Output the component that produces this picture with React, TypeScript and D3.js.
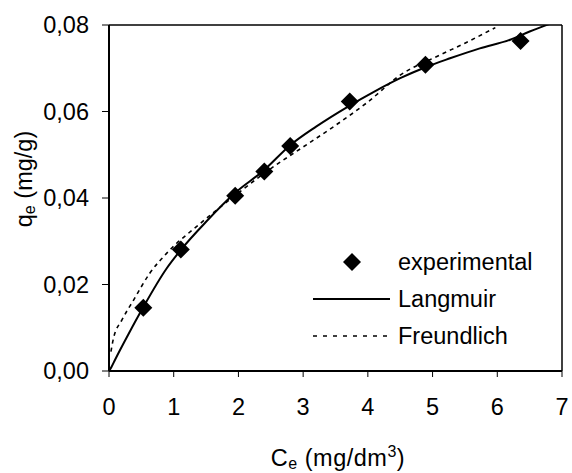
import React from "react";
import * as d3 from "d3";

const expC = [0.53, 1.11, 1.95, 2.4, 2.8, 3.72, 4.89, 6.36];
const expQ = [0.0146, 0.0281, 0.0405, 0.0461, 0.052, 0.0623, 0.0708, 0.0763];

const langC = [0, 0.04, 0.09, 0.3, 0.52, 0.89, 1.11, 1.5, 1.95, 2.4, 2.8, 3.2, 3.7, 4.1, 4.5, 4.9, 5.27, 5.73, 6.2, 6.5, 6.8];
const langQ = [0, 0.001, 0.0025, 0.0085, 0.0145, 0.0237, 0.028, 0.0345, 0.0412, 0.0465, 0.0522, 0.0565, 0.0612, 0.0646, 0.0677, 0.0703, 0.0723, 0.0746, 0.0766, 0.0785, 0.0802];

const freC = [0.03, 0.07, 0.2, 0.38, 0.63, 0.89, 1.41, 2.0, 2.5, 3.0, 3.5, 4.0, 4.5, 5.12, 5.5, 5.97];
const freQ = [0.0045, 0.0076, 0.0118, 0.0164, 0.0226, 0.0272, 0.0341, 0.0412, 0.0468, 0.0518, 0.0568, 0.0622, 0.0684, 0.0731, 0.0758, 0.0794];

const xTicks = [0, 1, 2, 3, 4, 5, 6, 7];
const yTicks = [0, 0.02, 0.04, 0.06, 0.08];

const legendLabels = ["experimental", "Langmuir", "Freundlich"];

const W = 572;
const H = 473;
const FONT = "'Liberation Sans', Arial, sans-serif";
const FS = 23.5;

export default function App() {
  const x = d3.scaleLinear().domain([0, 7]).range([109, 562]);
  const y = d3.scaleLinear().domain([0, 0.08]).range([371, 25]);
  const fmt = (v: number) => d3.format(".2f")(v).replace(".", ",");

  const line = d3
    .line<[number, number]>()
    .x((d) => x(d[0]))
    .y((d) => y(d[1]))
    .curve(d3.curveMonotoneX);

  const langPath = line(langC.map((c, i) => [c, langQ[i]] as [number, number])) || "";
  const frePath = line(freC.map((c, i) => [c, freQ[i]] as [number, number])) || "";

  const diamond = (cx: number, cy: number, r: number) =>
    `M${cx},${cy - r}L${cx + r},${cy}L${cx},${cy + r}L${cx - r},${cy}Z`;

  const [x0, x1] = x.range();
  const [y0, y1] = y.range();

  return (
    <svg
      width={W}
      height={H}
      style={{ position: "absolute", left: 0, top: 0, background: "#fff" }}
      fontFamily={FONT}
    >
      <rect x={0} y={0} width={W} height={H} fill="#fff" />
      <defs>
        <clipPath id="plot">
          <rect x={x0} y={y1} width={x1 - x0} height={y0 - y1} />
        </clipPath>
      </defs>

      {/* curves */}
      <g clipPath="url(#plot)">
        <path d={langPath} fill="none" stroke="#000" strokeWidth={2} />
        <path d={frePath} fill="none" stroke="#000" strokeWidth={1.6} strokeDasharray="4,4" />
      </g>

      {/* experimental points */}
      {expC.map((c, i) => (
        <path key={i} d={diamond(x(c), y(expQ[i]), 9)} fill="#000" />
      ))}

      {/* frame */}
      <line x1={x0} y1={y1} x2={x1} y2={y1} stroke="#000" strokeWidth={1.5} />
      <line x1={x1} y1={y1} x2={x1} y2={y0} stroke="#000" strokeWidth={1.5} />
      <line x1={x0} y1={y0} x2={x1} y2={y0} stroke="#000" strokeWidth={2} />
      <line x1={x0} y1={y1} x2={x0} y2={y0} stroke="#000" strokeWidth={2} />

      {/* x ticks */}
      {xTicks.map((t) => (
        <g key={t}>
          <line x1={x(t)} x2={x(t)} y1={y0} y2={y0 + 6} stroke="#000" strokeWidth={1} />
          <text x={x(t)} y={415} fontSize={FS} textAnchor="middle" fill="#000">
            {t}
          </text>
        </g>
      ))}

      {/* y ticks */}
      {yTicks.map((t) => (
        <g key={t}>
          <line x1={x0 - 7} x2={x0} y1={y(t)} y2={y(t)} stroke="#000" strokeWidth={1} />
          <text x={89} y={y(t) + 8} fontSize={FS} textAnchor="end" fill="#000">
            {fmt(t)}
          </text>
        </g>
      ))}

      {/* axis titles */}
      <text x={338} y={466} fontSize={FS} textAnchor="middle" fill="#000" letterSpacing={0.5}>
        C<tspan fontSize={16} dy={3}>e</tspan>
        <tspan dy={-3}> (mg/dm</tspan>
        <tspan fontSize={16} dy={-9}>3</tspan>
        <tspan dy={9}>)</tspan>
      </text>
      <text
        transform={`translate(32,179) rotate(-90)`}
        fontSize={FS}
        textAnchor="middle"
        fill="#000"
      >
        q<tspan fontSize={16} dy={3}>e</tspan>
        <tspan dy={-3}> (mg/g)</tspan>
      </text>

      {/* legend */}
      <path d={diamond(352, 262, 9)} fill="#000" />
      <text x={398} y={270} fontSize={FS} fill="#000">{legendLabels[0]}</text>
      <line x1={313} x2={390} y1={299} y2={299} stroke="#000" strokeWidth={2} />
      <text x={398} y={307} fontSize={FS} fill="#000">{legendLabels[1]}</text>
      <line x1={313} x2={390} y1={336} y2={336} stroke="#000" strokeWidth={1.6} strokeDasharray="4,6" />
      <text x={398} y={344} fontSize={FS} fill="#000">{legendLabels[2]}</text>
    </svg>
  );
}
